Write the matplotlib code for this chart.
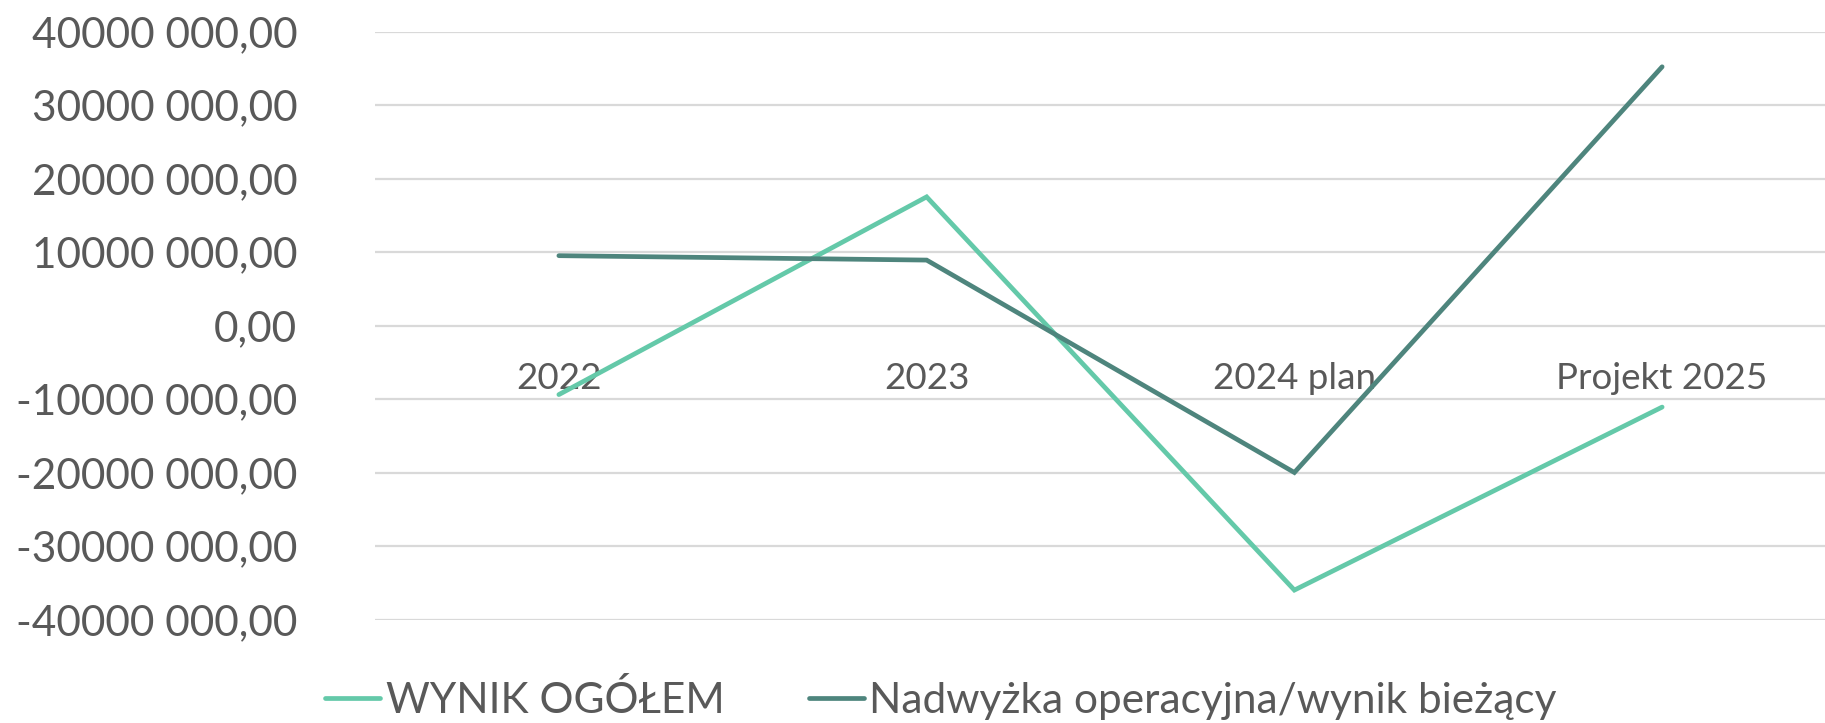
import numpy as np
import matplotlib
matplotlib.use('Agg')
import matplotlib.pyplot as plt
from matplotlib.ticker import FuncFormatter, MultipleLocator

plt.rcParams['font.family'] = ['Lato', 'DejaVu Sans']

categories = ['2022', '2023', '2024 plan', 'Projekt 2025']
wynik_ogolem = [-9.4e6, 17.5e6, -36.0e6, -11.1e6]
nadwyzka = [9.5e6, 8.9e6, -20.0e6, 35.2e6]
series_names = ['WYNIK OGÓŁEM', 'Nadwyżka operacyjna/wynik bieżący']

color_wynik = '#64C9A9'
color_nadw = '#4E857D'
color_text = '#595959'
color_grid = '#D9D9D9'

def fmt(val, pos):
    v = int(round(val))
    sign = '-' if v < 0 else ''
    a = abs(v)
    if a >= 1000:
        return '%s%d %03d,00' % (sign, a // 1000, a % 1000)
    return '%s%d,00' % (sign, a)

fig = plt.figure(figsize=(18.25, 7.23), dpi=100)
ax = fig.add_axes([375/1825, 103.5/723, 1471/1825, 588/723])

x = np.arange(len(categories))
l1, = ax.plot(x, wynik_ogolem, color=color_wynik, lw=3.4, solid_capstyle='round', solid_joinstyle='miter', zorder=3)
l2, = ax.plot(x, nadwyzka, color=color_nadw, lw=3.4, solid_capstyle='round', solid_joinstyle='miter', zorder=4)

ax.set_xlim(-0.5, len(categories) - 0.5)
ax.set_ylim(-40e6, 40e6)
ax.yaxis.set_major_locator(MultipleLocator(10e6))
ax.yaxis.set_major_formatter(FuncFormatter(fmt))
ax.grid(axis='y', color=color_grid, lw=1.6)
ax.set_axisbelow(True)
for s in ax.spines.values():
    s.set_visible(False)

# category labels sit under the zero line, like Excel
ax.spines['bottom'].set_position(('data', 0))
ax.set_xticks(x)
ax.set_xticklabels(categories)
ax.tick_params(axis='x', length=0, pad=26, labelsize=26.5, labelcolor=color_text)
ax.tick_params(axis='y', length=0, pad=56, labelsize=30.5, labelcolor=color_text)

fig.legend([l1, l2], series_names, loc='center', bbox_to_anchor=(941/1825, 1 - 700/723),
           ncol=2, frameon=False, fontsize=30.5, labelcolor=color_text,
           handlelength=1.3, handletextpad=0.12, columnspacing=2.0, borderpad=0, borderaxespad=0)

fig.savefig('out.png', dpi=100)
